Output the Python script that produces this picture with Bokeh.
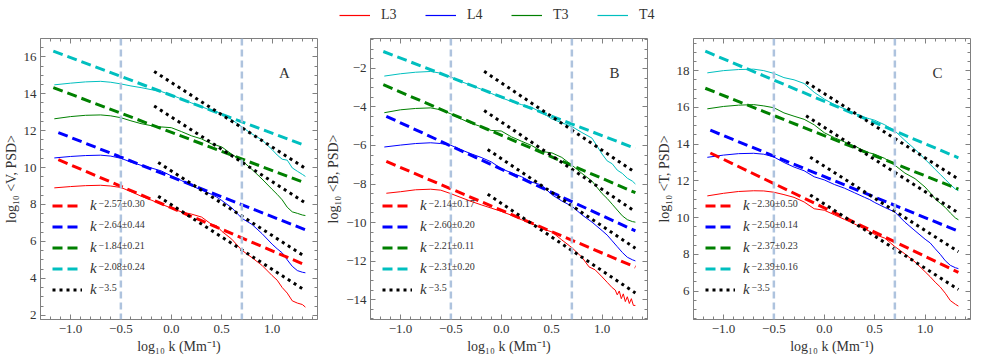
from bokeh.plotting import figure
from bokeh.layouts import row, column
from bokeh.models import (Range1d, LinearAxis, FixedTicker, Span, Legend, LegendItem,
                          Label, CustomJSTickFormatter)
from bokeh.embed import file_html
from bokeh.resources import INLINE

# ---------------- data ----------------
K = [-1.16, -1.0, -0.85, -0.7, -0.6, -0.5, -0.4, -0.3, -0.2, -0.1, 0.0, 0.1, 0.2, 0.3, 0.4,
     0.45, 0.5, 0.6, 0.7, 0.8, 0.9, 1.0, 1.05, 1.1, 1.15, 1.2, 1.25, 1.3, 1.33]

A_L3 = [8.90, 8.97, 9.02, 9.04, 9.00, 8.92, 8.70, 8.45, 8.24, 8.02, 7.80, 7.60, 7.48, 7.32, 6.92,
        6.85, 6.55, 6.12, 5.52, 5.12, 4.70, 4.15, 3.90, 3.50, 3.20, 2.78, 2.66, 2.58, 2.44]
A_L4 = [10.52, 10.60, 10.65, 10.67, 10.62, 10.50, 10.30, 10.12, 9.98, 9.82, 9.55, 9.30, 9.02, 8.78, 8.55,
        8.40, 8.22, 7.82, 7.25, 6.92, 6.42, 5.85, 5.60, 5.38, 5.00, 4.65, 4.42, 4.33, 4.30]
A_T3 = [12.64, 12.76, 12.83, 12.85, 12.80, 12.70, 12.53, 12.38, 12.27, 12.20, 12.16, 11.95, 11.72, 11.55, 11.28,
        11.20, 11.12, 10.72, 10.38, 9.90, 9.38, 8.82, 8.55, 8.25, 7.85, 7.60, 7.52, 7.43, 7.40]
A_T4 = [14.48, 14.57, 14.64, 14.67, 14.62, 14.53, 14.42, 14.33, 14.22, 14.12, 13.93, 13.72, 13.50, 13.30, 13.08,
        13.02, 12.90, 12.60, 12.20, 11.82, 11.50, 10.97, 10.68, 10.45, 10.40, 9.98, 9.80, 9.63, 9.52]

B_L3_X = [-1.14, -1.0, -0.85, -0.7, -0.6, -0.5, -0.4, -0.3, -0.2, -0.1, 0.0, 0.1, 0.2, 0.3, 0.4, 0.45,
          0.5, 0.6, 0.7, 0.8, 0.87, 0.93, 1.0, 1.05, 1.1, 1.13, 1.15, 1.17, 1.19, 1.21, 1.23, 1.25,
          1.27, 1.29, 1.31, 1.33]
B_L3 = [-8.48, -8.40, -8.30, -8.27, -8.32, -8.50, -8.70, -8.90, -9.08, -9.25, -9.42, -9.62, -9.85, -10.05,
        -10.28, -10.40, -10.48, -10.90, -11.30, -11.80, -12.30, -12.45, -12.82, -13.10, -13.38, -13.50,
        -13.75, -13.55, -13.95, -13.70, -14.10, -13.85, -14.20, -13.95, -14.30, -14.30]
B_L4 = [-6.08, -5.98, -5.90, -5.86, -5.90, -5.99, -6.22, -6.43, -6.62, -6.85, -7.20, -7.42, -7.62, -7.90, -8.05,
        -8.30, -8.55, -8.88, -9.15, -9.60, -9.98, -10.42, -10.65, -10.95, -11.25, -11.55, -11.80, -11.93, -11.99]
B_T3 = [-4.30, -4.15, -4.08, -4.05, -4.15, -4.36, -4.62, -4.85, -5.02, -5.22, -5.25, -5.55, -5.78, -6.00, -6.30,
        -6.35, -6.38, -6.62, -7.02, -7.45, -7.85, -8.50, -8.75, -9.05, -9.35, -9.65, -9.85, -9.95, -9.98]
B_T4 = [-2.40, -2.28, -2.20, -2.16, -2.25, -2.45, -2.68, -2.88, -3.08, -3.30, -3.52, -3.72, -3.88, -4.02, -4.30,
        -4.45, -4.62, -4.82, -5.02, -5.33, -5.62, -6.45, -6.80, -6.95, -7.28, -7.45, -7.70, -7.85, -8.00]

C_L3 = [11.18, 11.32, 11.42, 11.46, 11.45, 11.38, 11.25, 11.10, 10.85, 10.48, 10.40, 10.15, 9.90, 9.65, 9.38,
        9.25, 9.08, 8.88, 8.42, 8.02, 7.58, 7.05, 6.78, 6.48, 6.22, 5.88, 5.48, 5.28, 5.18]
C_L4 = [13.28, 13.40, 13.48, 13.50, 13.45, 13.30, 13.00, 12.75, 12.55, 12.22, 12.05, 11.80, 11.60, 11.35, 11.10,
        10.98, 10.82, 10.55, 10.30, 9.75, 9.28, 8.82, 8.62, 8.30, 8.00, 7.65, 7.40, 7.27, 7.22]
C_T3 = [15.92, 16.05, 16.12, 16.15, 16.08, 15.98, 15.70, 15.52, 15.35, 15.05, 14.62, 14.35, 14.12, 13.90, 13.62,
        13.52, 13.45, 13.22, 12.85, 12.42, 12.12, 11.66, 11.35, 11.02, 10.78, 10.55, 10.25, 9.98, 9.88]
C_T4 = [17.88, 18.00, 18.06, 18.08, 18.00, 17.85, 17.62, 17.50, 17.30, 16.82, 16.45, 16.15, 15.92, 15.68, 15.45,
        15.38, 15.30, 15.05, 14.72, 14.20, 13.72, 13.17, 12.90, 12.62, 12.35, 12.08, 11.80, 11.55, 11.47]

# power-law fits (order L3, L4, T3, T4): intercept at log k = 0, slope, start
FIT_A_INT = [7.82, 9.49, 11.91, 13.91]
FIT_A_SLOPE = [-2.33, -2.148, -2.068, -2.048]
FIT_A_X0 = [-1.12, -1.12, -1.17, -1.17]
FIT_B_INT = [-9.36, -7.23, -5.47, -3.478]
FIT_B_SLOPE = [-2.221, -2.408, -2.24, -2.012]
FIT_B_X0 = [-1.14, -1.14, -1.17, -1.17]
FIT_C_INT = [10.53, 12.23, 14.46, 16.33]
FIT_C_SLOPE = [-2.643, -2.235, -2.187, -2.311]
FIT_C_X0 = [-1.13, -1.13, -1.18, -1.18]
FIT_X1 = 1.33

# k^-3.5 reference lines
REF_SLOPE = -3.5
REF_A_INT = [14.61, 12.74, 9.82, 7.99]
REF_A_X0 = [-0.17, -0.17, -0.13, -0.13]
REF_B_INT = [-2.75, -4.78, -6.68, -9.0]
REF_B_X0 = [-0.17, -0.17, -0.135, -0.135]
REF_C_INT = [16.75, 14.91, 12.8, 10.74]
REF_C_X0 = [-0.18, -0.18, -0.14, -0.14]

EXP_A = ["\u22122.57\u00b10.30", "\u22122.64\u00b10.44", "\u22121.84\u00b10.21", "\u22122.08\u00b10.24", "\u22123.5"]
EXP_B = ["\u22122.14\u00b10.17", "\u22122.60\u00b10.20", "\u22122.21\u00b10.11", "\u22122.31\u00b10.20", "\u22123.5"]
EXP_C = ["\u22122.30\u00b10.50", "\u22122.50\u00b10.14", "\u22122.37\u00b10.23", "\u22122.39\u00b10.16", "\u22123.5"]

SERIES = ["L3", "L4", "T3", "T4"]
COLORS = ["#ff0000", "#0000ff", "#008000", "#00bfbf"]
VLINES = [-0.5, 0.7]

XTICKS = [-1.0, -0.5, 0.0, 0.5, 1.0]
XTICK_LABELS = ["\u22121.0", "\u22120.5", "0.0", "0.5", "1.0"]
YTICKS_A = [2, 4, 6, 8, 10, 12, 14, 16]
YTICKS_B = [-14, -12, -10, -8, -6, -4, -2]
YTICKS_C = [6, 8, 10, 12, 14, 16, 18]

X_RANGE = (-1.297, 1.45)
YR_A = (1.77, 16.99)
YR_B = (-15.03, -0.45)
YR_C = (4.45, 19.75)

FONT = "Liberation Serif"
FW, FH = 277, 281
TOP_H = 26
GRAY = "#808080"
TXT = "#333333"


def lab(v):
    return str(v).replace("-", "\u2212")


def panel(curves, fit_int, fit_slope, fit_x0, ref_int, ref_x0, yr, yticks, ylabel,
          letter, exps, left, right):
    p = figure(frame_width=FW, frame_height=FH, x_range=Range1d(*X_RANGE), y_range=Range1d(*yr),
               output_backend="svg", toolbar_location=None,
               min_border_left=left, min_border_right=right, min_border_top=38 - TOP_H,
               min_border_bottom=33)
    p.xgrid.visible = False
    p.ygrid.visible = False
    p.outline_line_color = GRAY
    p.background_fill_color = "white"

    xminor = [round(-1.2 + 0.1 * i, 1) for i in range(27)]
    yminor = [yticks[0] - 2 + 0.5 * i for i in range(4 * (len(yticks) + 2))]

    for ax in (p.xaxis[0], p.yaxis[0]):
        ax.axis_line_color = GRAY
        ax.major_tick_line_color = GRAY
        ax.minor_tick_line_color = GRAY
        ax.major_tick_in, ax.major_tick_out = 5, 0
        ax.minor_tick_in, ax.minor_tick_out = 3, 0
        ax.major_label_text_font = FONT
        ax.major_label_text_font_size = "13px"
        ax.major_label_text_color = TXT
        ax.axis_label_text_font = FONT
        ax.axis_label_text_font_size = "14px"
        ax.axis_label_text_font_style = "normal"
        ax.axis_label_text_color = TXT
    p.xaxis[0].major_label_standoff = 5
    p.xaxis[0].axis_label_standoff = 3
    p.yaxis[0].major_label_standoff = 4
    p.yaxis[0].axis_label_standoff = 2
    p.xaxis[0].ticker = FixedTicker(ticks=XTICKS, minor_ticks=xminor)
    p.xaxis[0].major_label_overrides = {t: s for t, s in zip(XTICKS, XTICK_LABELS)}
    p.xaxis[0].axis_label = "log\u2081\u2080 k (Mm\u207b\u00b9)"
    p.yaxis[0].ticker = FixedTicker(ticks=yticks, minor_ticks=yminor)
    p.yaxis[0].major_label_overrides = {t: lab(t) for t in yticks}
    p.yaxis[0].axis_label = ylabel

    blank = CustomJSTickFormatter(code="return ''")
    for side, tk in (("right", FixedTicker(ticks=yticks, minor_ticks=yminor)),
                     ("above", FixedTicker(ticks=XTICKS, minor_ticks=xminor))):
        ax = LinearAxis(ticker=tk, formatter=blank)
        ax.axis_line_color = None
        ax.major_tick_line_color = GRAY
        ax.minor_tick_line_color = GRAY
        ax.major_tick_in, ax.major_tick_out = 5, 0
        ax.minor_tick_in, ax.minor_tick_out = 3, 0
        ax.major_label_standoff = 0
        ax.major_label_text_font_size = "1px"
        p.add_layout(ax, side)

    for v in VLINES:
        p.add_layout(Span(location=v, dimension="height", line_color="#aec3de",
                          line_width=2.5, line_dash="7 4"))

    solid = []
    for (x, y), c in zip(curves, COLORS):
        solid.append(p.line(x, y, line_color=c, line_width=1.0))

    items = []
    for a, b, x0, c in zip(fit_int, fit_slope, fit_x0, COLORS):
        xs = [x0, FIT_X1]
        r = p.line(xs, [a + b * v for v in xs], line_color=c, line_width=3, line_dash="10 5")
        items.append(LegendItem(label="k", renderers=[r]))
    dots = []
    for a, x0 in zip(ref_int, ref_x0):
        xs = [x0, FIT_X1]
        dots.append(p.line(xs, [a + REF_SLOPE * v for v in xs], line_color="black",
                           line_width=3, line_dash="3 4"))
    items.append(LegendItem(label="k", renderers=[dots[0]]))

    leg = Legend(items=items, location=(12, 19), glyph_width=30, glyph_height=21,
                 label_height=21, spacing=0, padding=0, margin=0, label_standoff=8,
                 label_text_font=FONT, label_text_font_style="italic",
                 label_text_font_size="15px", label_text_color=TXT,
                 background_fill_alpha=0, border_line_alpha=0)
    p.add_layout(leg, "center")
    for i, e in enumerate(exps):
        p.add_layout(Label(x=58, y=113.5 - 21 * i + 3, x_units="screen", y_units="screen",
                           text=e, text_font=FONT, text_font_size="10px", text_color=TXT,
                           text_baseline="middle"))
    p.add_layout(Label(x=FW - 33, y=FH - 34, x_units="screen", y_units="screen", text=letter,
                       text_font=FONT, text_font_size="15px", text_color=TXT,
                       text_align="center", text_baseline="middle"))
    return p, solid


pA, sA = panel([(K, A_L3), (K, A_L4), (K, A_T3), (K, A_T4)], FIT_A_INT, FIT_A_SLOPE, FIT_A_X0,
               REF_A_INT, REF_A_X0, YR_A, YTICKS_A, "log\u2081\u2080 <V, PSD>", "A", EXP_A, 32, 6)
pB, sB = panel([(B_L3_X, B_L3), (K, B_L4), (K, B_T3), (K, B_T4)], FIT_B_INT, FIT_B_SLOPE, FIT_B_X0,
               REF_B_INT, REF_B_X0, YR_B, YTICKS_B, "log\u2081\u2080 <B, PSD>", "B", EXP_B, 44, 6)
pC, sC = panel([(K, C_L3), (K, C_L4), (K, C_T3), (K, C_T4)], FIT_C_INT, FIT_C_SLOPE, FIT_C_X0,
               REF_C_INT, REF_C_X0, YR_C, YTICKS_C, "log\u2081\u2080 <T, PSD>", "C", EXP_C, 40, 3)

# shared series key across the top (its sample lines sit outside the key's own visible range)
key = figure(width=960, height=TOP_H, x_range=Range1d(0, 1), y_range=Range1d(0, 1),
             output_backend="svg", toolbar_location=None, min_border=0,
             min_border_left=0, min_border_right=0, min_border_top=0, min_border_bottom=0)
key.axis.visible = False
key.grid.visible = False
key.outline_line_color = None
key_items = []
for s, c in zip(SERIES, COLORS):
    r = key.line(x=[5, 6], y=[5, 6], line_color=c, line_width=1.2)
    key_items.append(LegendItem(label=s, renderers=[r]))
top = Legend(items=key_items, orientation="horizontal", location=(339, 3), glyph_width=31,
             glyph_height=16, label_height=16, label_width=20, label_standoff=11, spacing=24,
             padding=0, margin=0, label_text_font=FONT, label_text_font_size="14px",
             label_text_color=TXT, background_fill_alpha=0, border_line_alpha=0)
key.add_layout(top, "center")

layout = column(key, row(pA, pB, pC))
open("out.html", "w").write(file_html(layout, INLINE))
